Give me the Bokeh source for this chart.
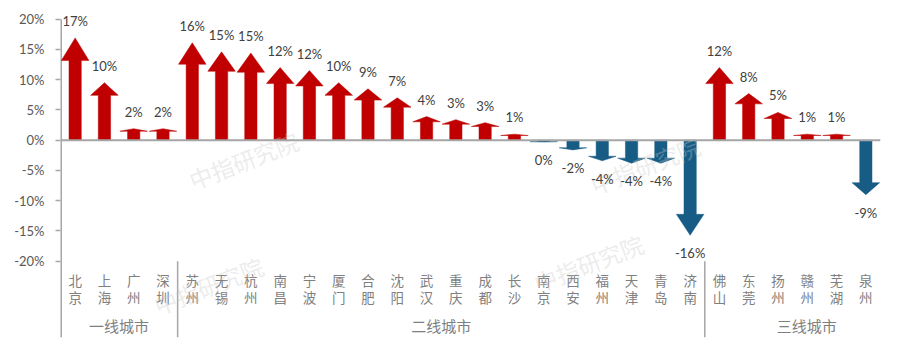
from bokeh.plotting import figure
from bokeh.models import Range1d, FixedTicker, PrintfTickFormatter, Span, ColumnDataSource, LabelSet
from bokeh.core.properties import value
from bokeh.embed import file_html
from bokeh.resources import INLINE

# ---------------- data ----------------
cities = ["北京", "上海", "广州", "深圳",
          "苏州", "无锡", "杭州", "南昌", "宁波", "厦门", "合肥", "沈阳", "武汉",
          "重庆", "成都", "长沙", "南京", "西安", "福州", "天津", "青岛", "济南",
          "佛山", "东莞", "扬州", "赣州", "芜湖", "泉州"]
changes = [16.9, 9.5, 1.9, 1.9,
           16.1, 14.6, 14.4, 12.0, 11.5, 9.5, 8.5, 7.0, 3.9,
           3.4, 2.9, 1.0, -0.3, -1.6, -3.4, -3.8, -3.8, -15.7,
           12.0, 7.7, 4.6, 1.0, 1.0, -9.0]
value_labels = ["17%", "10%", "2%", "2%",
                "16%", "15%", "15%", "12%", "12%", "10%", "9%", "7%", "4%",
                "3%", "3%", "1%", "0%", "-2%", "-4%", "-4%", "-4%", "-16%",
                "12%", "8%", "5%", "1%", "1%", "-9%"]
tiers = ["一线城市", "二线城市", "三线城市"]
tier_sizes = [4, 18, 6]
y_ticks = [-20, -15, -10, -5, 0, 5, 10, 15, 20]

# ---------------- style ----------------
RED = "#C00000"
BLUE = "#175C85"
PX = 6.05                      # pixels per percentage point
Y_MIN, Y_TOP, Y_MAX = -32.6, 20.0, 21.6
SHAFT_HALF = 0.21
HEAD_HALF = 0.47
HEAD_FRAC = 0.22
CJK = value("Noto Sans CJK SC")
LATO = value("Lato")

frame_h = round((Y_MAX - Y_MIN) * PX)
top_border = 18 - round((Y_MAX - 20.1) * PX)
p = figure(width=892, height=top_border + frame_h + 11,
           x_range=Range1d(0, len(cities)),
           y_range=Range1d(Y_MIN, Y_MAX), output_backend="svg",
           toolbar_location=None, x_axis_location=None,
           min_border_left=60, min_border_right=12,
           min_border_top=top_border, min_border_bottom=11)
p.grid.visible = False
p.outline_line_color = None
p.background_fill_color = "white"

ax = p.yaxis[0]
ax.ticker = FixedTicker(ticks=y_ticks)
ax.formatter = PrintfTickFormatter(format="%d%%")
ax.axis_line_color = None
ax.major_tick_line_color = "#A6A6A6"
ax.major_tick_line_width = 1.5
ax.major_tick_in = 0
ax.major_tick_out = 5
ax.minor_tick_line_color = None
ax.major_label_standoff = 11
ax.major_label_text_font = "Lato"
ax.major_label_text_font_size = "13px"
ax.major_label_text_color = "#595959"

# vertical axis line from the top tick down to the bottom of the category area
p.segment(x0=[0], y0=[Y_MIN], x1=[0], y1=[Y_TOP], line_color="#A6A6A6", line_width=3)

# arrows
xs, ys, cols = [], [], []
for i, v in enumerate(changes):
    c = i + 0.5
    s = 1 if v >= 0 else -1
    base = v - s * HEAD_FRAC * abs(v)
    xs.append([c - SHAFT_HALF, c - SHAFT_HALF, c - HEAD_HALF, c,
               c + HEAD_HALF, c + SHAFT_HALF, c + SHAFT_HALF])
    ys.append([0, base, base, v, base, base, 0])
    cols.append(RED if v >= 0 else BLUE)
p.patches(xs, ys, fill_color=cols, line_color=cols, line_width=0.5)

# zero line
p.add_layout(Span(location=0, dimension="width", line_color="#A6A6A6", line_width=2))

# value labels
centers = [i + 0.5 for i in range(len(cities))]
src = ColumnDataSource(dict(x=centers, y=changes, t=value_labels,
                            off=[17 if v >= 0 else -18 for v in changes]))
p.add_layout(LabelSet(x="x", y="y", text="t", y_offset="off", source=src,
                      text_align="center", text_baseline="middle",
                      text_font=LATO, text_font_size="13px",
                      text_color="#404040"))

# category labels (vertical stacked characters)
p.text(centers, [-20] * len(cities), text=["\n".join(c) for c in cities],
       y_offset=9, text_align="center", text_baseline="top",
       text_font=CJK, text_font_size="13.5px", text_line_height=0.82,
       text_color="#808080")

# tier separators and labels
bounds = [0]
for n in tier_sizes:
    bounds.append(bounds[-1] + n)
seps = bounds[1:-1]
p.segment(x0=seps, y0=[-20] * len(seps), x1=seps, y1=[Y_MIN] * len(seps),
          line_color="#A6A6A6", line_width=1.5)
tier_x = [(bounds[k] + bounds[k + 1]) / 2 for k in range(len(tiers))]
p.text(tier_x, [-20] * len(tiers), text=tiers, y_offset=64,
       x_offset=[0, 0, 14],
       text_align="center", text_baseline="middle", text_font=CJK,
       text_font_size="15px", text_color="#7F7F7F")

# watermarks
wm_x = [6.25, 5.05, 19.97, 18.03]
wm_y = [-3.3, -24.0, -4.1, -20.3]
p.text(wm_x, wm_y, text=["中指研究院"] * 4, angle=0.37, text_align="center",
       text_baseline="middle", text_font=CJK, text_font_size="23px",
       text_color="#C8C8C8", text_alpha=0.35)

open("out.html", "w").write(file_html(p, INLINE))
